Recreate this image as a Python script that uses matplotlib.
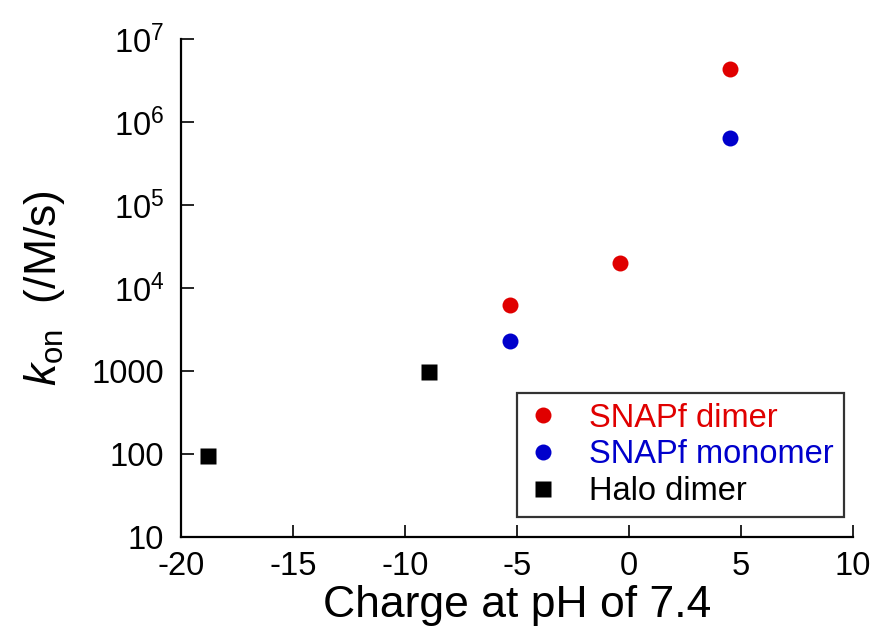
import numpy as np
import matplotlib
matplotlib.use('Agg')
import matplotlib.pyplot as plt

plt.rcParams['font.family'] = ['Liberation Sans', 'DejaVu Sans']
plt.rcParams['mathtext.fontset'] = 'custom'
plt.rcParams['mathtext.rm'] = 'Liberation Sans'
plt.rcParams['mathtext.it'] = 'Liberation Sans:italic'

# charge at pH 7.4 and association rate constants
snap_dimer_charge = [4.5, -0.4, -5.3]
snap_dimer_kon = [4.4e6, 2.0e4, 6.2e3]
snap_mono_charge = [4.5, -5.3]
snap_mono_kon = [6.5e5, 2.3e3]
halo_charge = [-18.8, -8.95]
halo_kon = [95, 970]

xticks = [-20, -15, -10, -5, 0, 5, 10]
yticks = [10, 100, 1000, 1e4, 1e5, 1e6, 1e7]
ytick_labels = ['10', '100', '1000', r'$10^4$', r'$10^5$', r'$10^6$', r'$10^7$']

red = '#e00000'
blue = '#0000cc'

fig = plt.figure(figsize=(8.77, 6.38), dpi=100)
ax = fig.add_axes([0.2064, 0.1583, 0.7662, 0.7806])

ax.plot(snap_dimer_charge, snap_dimer_kon, 'o', color=red, ms=11.5, mec='none', label='SNAPf dimer')
ax.plot(snap_mono_charge, snap_mono_kon, 'o', color=blue, ms=11.5, mec='none', label='SNAPf monomer')
ax.plot(halo_charge, halo_kon, 's', color='black', ms=11, mec='none', label='Halo dimer')

ax.set_yscale('log')
ax.set_xlim(-20, 10)
ax.set_ylim(10, 1e7)
ax.set_xticks(xticks)
ax.set_xticklabels([str(t) for t in xticks])
ax.set_yticks(yticks)
ax.set_yticklabels(ytick_labels)
ax.minorticks_off()

for s in ['top', 'right']:
    ax.spines[s].set_visible(False)
for s in ['left', 'bottom']:
    ax.spines[s].set_linewidth(1.6)

ax.tick_params(direction='in', length=9, width=1.2, labelsize=23.5)
ax.tick_params(axis='y', pad=12)
ax.tick_params(axis='x', pad=10)

ax.set_xlabel('Charge at pH of 7.4', fontsize=32, labelpad=2)
ax.set_ylabel(r'$k_{\rm on}$  (/M/s)', fontsize=32, labelpad=18)

leg = ax.legend(loc='lower right', bbox_to_anchor=(0.986, 0.04), fontsize=23.5,
                frameon=True, fancybox=False, edgecolor='black', handletextpad=0.9,
                borderpad=0.3, labelspacing=0.18, handlelength=1.0, borderaxespad=0)
leg.get_frame().set_linewidth(1.6)
for txt, c in zip(leg.get_texts(), [red, blue, 'black']):
    txt.set_color(c)

fig.savefig('out.png', dpi=100)
